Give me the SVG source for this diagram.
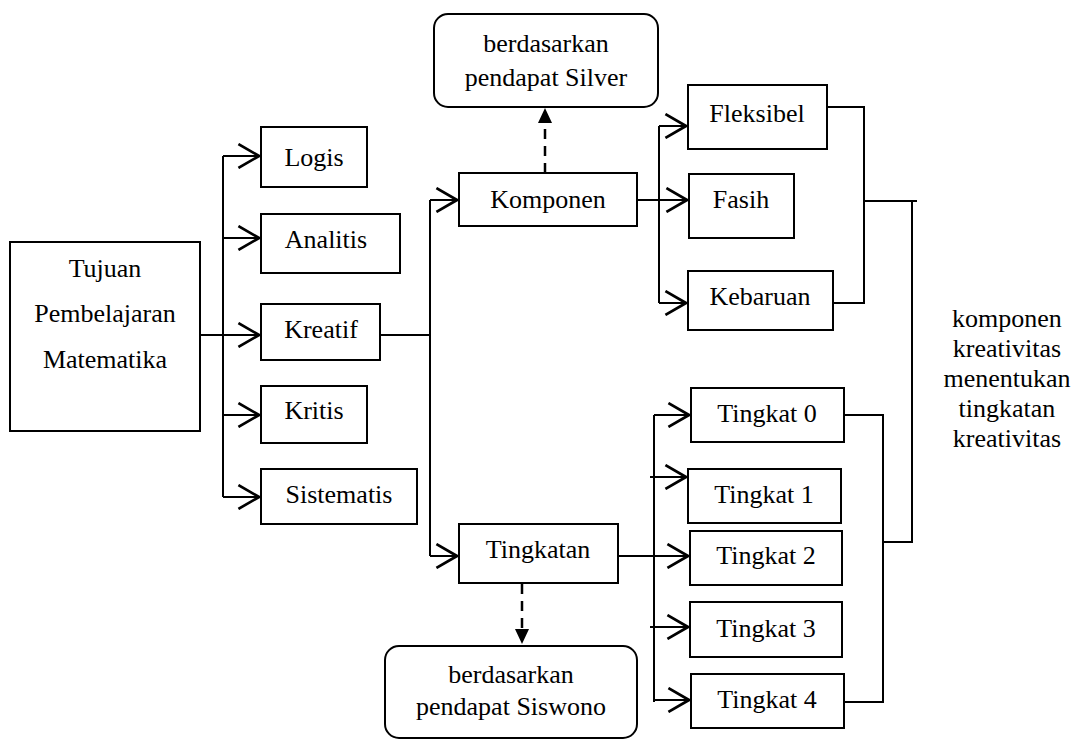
<svg xmlns="http://www.w3.org/2000/svg" width="1076" height="740" viewBox="0 0 1076 740" font-family="'Liberation Serif', 'Times New Roman', serif">
<defs>
<style>
.box{fill:#fff;stroke:#000;stroke-width:2}
.t{font-family:'Liberation Serif','Times New Roman',serif;font-size:26px;fill:#000;text-anchor:middle}
.ln{fill:none;stroke:#000;stroke-width:2}
.arr{fill:none;stroke:#000;stroke-width:2;marker-end:url(#open)}
.dash{fill:none;stroke:#000;stroke-width:2.5;stroke-dasharray:10 7}
</style>
<marker id="open" markerUnits="userSpaceOnUse" markerWidth="24" markerHeight="26" viewBox="-20 -12 22 24" refX="0" refY="0" orient="auto">
<path d="M-19,-11 L0,0 L-19,11" fill="none" stroke="#000" stroke-width="2.5"/>
</marker>
</defs>
<rect width="1076" height="740" fill="#fff"/>
<g id="connectors">
<path class="ln" d="M223,156 V497"/>
<path class="arr" d="M223,156 H259"/>
<path class="arr" d="M223,238 H259"/>
<path class="arr" d="M200,335 H259"/>
<path class="arr" d="M223,415 H259"/>
<path class="arr" d="M223,497 H259"/>
<path class="ln" d="M380,335 H430"/>
<path class="ln" d="M430,200 V556"/>
<path class="arr" d="M430,200 H457"/>
<path class="arr" d="M430,556 H457"/>
<path class="ln" d="M659,126 V303"/>
<path class="arr" d="M637,200 H687"/>
<path class="arr" d="M659,126 H686"/>
<path class="arr" d="M659,303 H686"/>
<path class="ln" d="M827,107 H864 V303 H833"/>
<path class="ln" d="M864,201 H917"/>
<path class="ln" d="M912,201 V542 H883"/>
<path class="ln" d="M844,415 H883 V702 H844"/>
<path class="ln" d="M654,415 V702"/>
<path class="arr" d="M618,556 H688"/>
<path class="arr" d="M654,415 H689"/>
<path class="arr" d="M650,477 H686"/>
<path class="arr" d="M650,627 H688"/>
<path class="arr" d="M654,700 H689"/>
<path class="dash" d="M545,173 V122"/>
<polygon points="545,108 538,123 552,123" fill="#000"/>
<path class="dash" d="M522,584 V629"/>
<polygon points="522,644 515,629 529,629" fill="#000"/>
</g>
<g id="tujuan">
<rect class="box" x="10" y="242" width="190" height="189"/>
<text class="t" x="105" y="277">Tujuan</text>
<text class="t" x="105" y="322">Pembelajaran</text>
<text class="t" x="105" y="368">Matematika</text>
</g>
<g id="logis"><rect class="box" x="261" y="127" width="106" height="60"/><text class="t" x="314" y="166">Logis</text></g>
<g id="analitis"><rect class="box" x="261" y="214" width="139" height="59"/><text class="t" x="326" y="248">Analitis</text></g>
<g id="kreatif"><rect class="box" x="261" y="304" width="119" height="56"/><text class="t" x="321" y="338">Kreatif</text></g>
<g id="kritis"><rect class="box" x="261" y="386" width="106" height="57"/><text class="t" x="314" y="419">Kritis</text></g>
<g id="sistematis"><rect class="box" x="261" y="469" width="156" height="55"/><text class="t" x="339" y="503">Sistematis</text></g>
<g id="komponen"><rect class="box" x="459" y="173" width="178" height="53"/><text class="t" x="548" y="208">Komponen</text></g>
<g id="silver">
<rect class="box" x="434" y="14" width="224" height="93" rx="14"/>
<text class="t" x="546" y="52">berdasarkan</text>
<text class="t" x="546" y="86">pendapat Silver</text>
</g>
<g id="fleksibel"><rect class="box" x="688" y="85" width="139" height="64"/><text class="t" x="757" y="122">Fleksibel</text></g>
<g id="fasih"><rect class="box" x="689" y="174" width="105" height="64"/><text class="t" x="741" y="208">Fasih</text></g>
<g id="kebaruan"><rect class="box" x="688" y="271" width="145" height="59"/><text class="t" x="760" y="305">Kebaruan</text></g>
<g id="tingkatan"><rect class="box" x="459" y="524" width="159" height="59"/><text class="t" x="538" y="558">Tingkatan</text></g>
<g id="siswono">
<rect class="box" x="385" y="646" width="252" height="92" rx="14"/>
<text class="t" x="511" y="683">berdasarkan</text>
<text class="t" x="511" y="715">pendapat Siswono</text>
</g>
<g id="tingkat0"><rect class="box" x="691" y="388" width="153" height="54"/><text class="t" x="767" y="422">Tingkat 0</text></g>
<g id="tingkat1"><rect class="box" x="688" y="469" width="153" height="54"/><text class="t" x="764" y="503">Tingkat 1</text></g>
<g id="tingkat2"><rect class="box" x="690" y="531" width="152" height="54"/><text class="t" x="766" y="564">Tingkat 2</text></g>
<g id="tingkat3"><rect class="box" x="690" y="602" width="152" height="55"/><text class="t" x="766" y="637">Tingkat 3</text></g>
<g id="tingkat4"><rect class="box" x="691" y="674" width="153" height="54"/><text class="t" x="767" y="708">Tingkat 4</text></g>
<g id="note">
<text class="t" x="1007" y="327">komponen</text>
<text class="t" x="1007" y="357">kreativitas</text>
<text class="t" x="1007" y="387">menentukan</text>
<text class="t" x="1007" y="417">tingkatan</text>
<text class="t" x="1007" y="447">kreativitas</text>
</g>
</svg>
